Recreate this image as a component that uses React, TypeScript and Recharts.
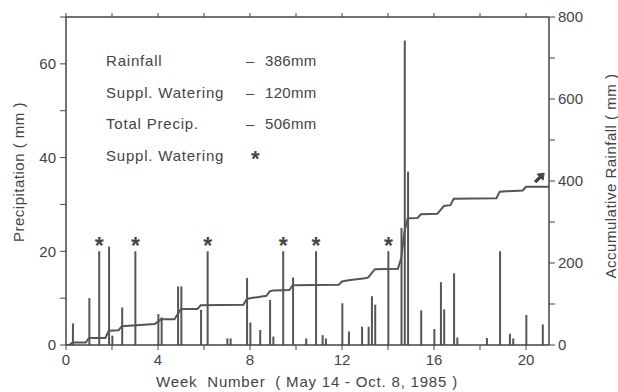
import { Bar, ComposedChart, LabelList, Line, Scatter, XAxis, YAxis } from 'recharts';

// daily precipitation, [day since May 14, mm]
const RAIN: [number, number][] = [
  [2, 4.6], [7, 10], [13, 21], [14, 2], [17, 8], [28, 6.6], [29, 5.9], [34, 12.5], [35, 12.5],
  [41, 7.5], [49, 1.4], [50, 1.4], [55, 14.3], [56, 4.8], [59, 3.2], [62, 9.6], [63, 1.8],
  [69, 14.4], [73, 1.4], [78, 2.1], [79, 1.4], [84, 8.9], [86, 2.9], [90, 3.9], [92, 3.9],
  [93, 10.4], [94, 8.6], [102, 25], [103, 65], [104, 37], [108, 7.4], [112, 3.4], [114, 13.4],
  [115, 7.6], [118, 15.3], [119, 1.6], [128, 1.5], [132, 20], [135, 2.4], [136, 1.4],
  [140, 6.4], [145, 4.4],
];

// supplemental watering days, 20 mm each
const WATER_DAYS = [10, 21, 43, 66, 76, 98];
const WATER_MM = 20;

// accumulative rainfall, [day, mm]
const CUM: [number, number][] = [
  [0, 0], [1, 0], [2, 6], [6, 6], [7, 17], [12, 17], [13, 35], [16, 36], [17, 46], [27, 51],
  [28, 57], [29, 63], [33, 63], [35, 88], [40, 88], [41, 97], [54, 98], [55, 112], [56, 114],
  [61, 120], [62, 131], [63, 133], [68, 134], [69, 146], [83, 147], [84, 155], [86, 158],
  [91, 163], [92, 165], [94, 185], [101, 186], [102, 211], [103, 276], [104, 309], [107, 310],
  [108, 319], [113, 320], [115, 339], [117, 341], [118, 357], [131, 358], [132, 374],
  [139, 377], [140, 386], [147, 386],
];

const ARROW = [{ day: 144, v: 407 }];

const DAY_TICKS = [0, 14, 28, 42, 56, 70, 84, 98, 112, 126, 140];
const LEFT_TICKS = [0, 10, 20, 30, 40, 50, 60, 70];
const RIGHT_TICKS = [0, 100, 200, 300, 400, 500, 600, 700, 800];

const INK = '#444';
const FONT = '"Liberation Sans", Arial, sans-serif';

type Row = { day: number; rain?: number; water?: number; cum?: number };

function buildRows(): Row[] {
  const m = new Map<number, Row>();
  const get = (d: number) => {
    if (!m.has(d)) m.set(d, { day: d });
    return m.get(d)!;
  };
  RAIN.forEach(([d, v]) => (get(d).rain = v));
  WATER_DAYS.forEach((d) => (get(d).water = WATER_MM));
  CUM.forEach(([d, v]) => (get(d).cum = v));
  return [...m.values()].sort((a, b) => a.day - b.day);
}

const rows = buildRows();

const tickStyle = { fill: INK, fontSize: 15, fontFamily: FONT };
const axisLine = { stroke: INK, strokeWidth: 1.5 };

function Star(p: any) {
  if (p.value == null) return null;
  return (
    <text x={p.x + p.width / 2} y={p.y + 3} textAnchor="middle" fontSize={23} fontWeight="bold" fill={INK} fontFamily={FONT}>
      *
    </text>
  );
}

function ArrowMark(p: any) {
  const { cx, cy } = p;
  return (
    <g fill={INK} stroke={INK}>
      <line x1={cx - 4} y1={cy + 4} x2={cx + 1} y2={cy - 1} strokeWidth={3.5} />
      <polygon points={`${cx + 5},${cy - 5} ${cx - 2},${cy - 4} ${cx + 4},${cy + 2}`} strokeWidth={1} />
    </g>
  );
}

const label = (text: string, style: React.CSSProperties) => (
  <div style={{ position: 'absolute', whiteSpace: 'nowrap', color: INK, fontFamily: FONT, fontSize: 15, letterSpacing: 0.8, ...style }}>
    {text}
  </div>
);

export default function App() {
  return (
    <div style={{ position: 'absolute', left: 0, top: 0, width: 618, height: 392, background: '#fff' }}>
      <ComposedChart width={618} height={392} data={rows} margin={{ top: 7, right: 0, bottom: 0, left: 0 }}>
        <XAxis
          dataKey="day"
          type="number"
          domain={[0, 147]}
          ticks={DAY_TICKS}
          tickFormatter={(d: number) => (d % 28 === 0 ? String(d / 7) : '')}
          height={47}
          tick={tickStyle}
          axisLine={axisLine}
          tickLine={{ stroke: INK }}
          tickSize={5}
          tickMargin={4}
          allowDataOverflow
        />
        <XAxis
          xAxisId="top"
          orientation="top"
          dataKey="day"
          type="number"
          domain={[0, 147]}
          ticks={DAY_TICKS}
          tickFormatter={() => ''}
          height={10}
          axisLine={axisLine}
          tickLine={{ stroke: INK }}
          tickSize={4}
          allowDataOverflow
        />
        <YAxis
          yAxisId="left"
          domain={[0, 70]}
          ticks={LEFT_TICKS}
          tickFormatter={(v: number) => (v % 20 === 0 ? String(v) : '')}
          width={66}
          tick={tickStyle}
          axisLine={axisLine}
          tickLine={{ stroke: INK }}
          tickSize={6}
          tickMargin={4}
          allowDataOverflow
        />
        <YAxis
          yAxisId="right"
          orientation="right"
          domain={[0, 800]}
          ticks={RIGHT_TICKS}
          tickFormatter={(v: number) => (v % 200 === 0 ? String(v) : '')}
          width={69}
          tick={tickStyle}
          axisLine={axisLine}
          tickLine={{ stroke: INK }}
          tickSize={6}
          tickMargin={3}
          allowDataOverflow
        />
        <Bar yAxisId="left" dataKey="rain" stackId="p" barSize={2} fill="#555" isAnimationActive={false} />
        <Bar yAxisId="left" dataKey="water" stackId="p" barSize={2} fill="#555" isAnimationActive={false}>
          <LabelList dataKey="water" content={Star} />
        </Bar>
        <Line
          yAxisId="right"
          dataKey="cum"
          type="linear"
          stroke="#555"
          strokeWidth={2}
          dot={false}
          connectNulls
          isAnimationActive={false}
        />
        <Scatter xAxisId="top" yAxisId="right" data={ARROW} dataKey="v" shape={ArrowMark} isAnimationActive={false} />
      </ComposedChart>

      {label('Rainfall', { left: 106, top: 52 })}
      {label('Suppl. Watering', { left: 106, top: 84 })}
      {label('Total Precip.', { left: 106, top: 115 })}
      {label('Suppl. Watering', { left: 106, top: 147 })}
      {label('–', { left: 246, top: 52 })}
      {label('–', { left: 246, top: 84 })}
      {label('–', { left: 246, top: 115 })}
      {label('386mm', { left: 265, top: 52, letterSpacing: 0.3 })}
      {label('120mm', { left: 265, top: 84, letterSpacing: 0.3 })}
      {label('506mm', { left: 265, top: 115, letterSpacing: 0.3 })}
      {label('*', { left: 251, top: 146, fontSize: 22, fontWeight: 'bold' })}

      {label('Precipitation ( mm )', {
        left: 18,
        top: 172,
        transform: 'translate(-50%, -50%) rotate(-90deg)',
        letterSpacing: 0.5,
      })}
      {label('Accumulative Rainfall ( mm )', {
        left: 610,
        top: 176,
        transform: 'translate(-50%, -50%) rotate(-90deg)',
        letterSpacing: 0.5,
      })}
      {label('Week  Number  ( May 14 - Oct. 8, 1985 )', {
        left: 307,
        top: 381,
        transform: 'translate(-50%, -50%)',
        whiteSpace: 'pre',
        letterSpacing: 0.8,
      })}
    </div>
  );
}
